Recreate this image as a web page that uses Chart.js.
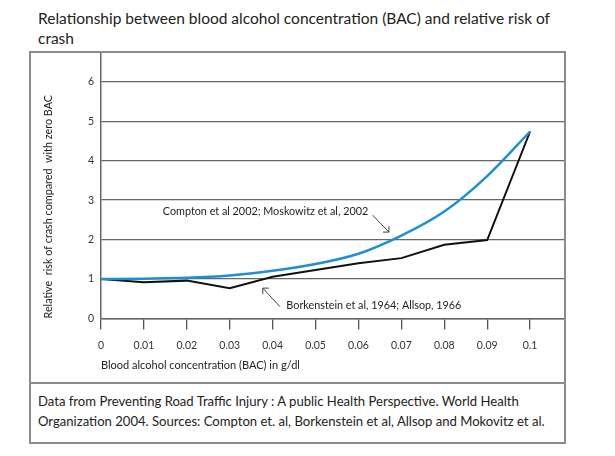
<!DOCTYPE html>
<html>
<head>
<meta charset="utf-8">
<script src="https://cdn.jsdelivr.net/npm/chart.js@4"></script>
<style>
  body { margin: 0; width: 615px; height: 456px; background: #fff; font-family: Lato, sans-serif; color: #222; position: relative; }
  #title { position: absolute; left: 38px; top: 8px; font-size: 15.5px; line-height: 20px; }
  #box { position: absolute; left: 29px; top: 51px; width: 537px; height: 333px; border: 2px solid #8c8c8c; box-sizing: border-box; }
  #box canvas { display: block; }
  #footer { position: absolute; left: 29px; top: 382px; width: 537px; height: 62px; border: 2px solid #8c8c8c; box-sizing: border-box; padding: 7px 0 0 7px; font-size: 13.1px; line-height: 20px; }
</style>
</head>
<body>
<div id="title">Relationship between blood alcohol concentration (BAC) and relative risk of<br>crash</div>
<div id="box"><canvas id="riskChart" width="533" height="329"></canvas></div>
<div id="footer">Data from Preventing Road Traffic Injury : A public Health Perspective. World Health<br>Organization 2004. Sources: Compton et. al, Borkenstein et al, Allsop and Mokovitz et al.</div>
<script>
// Chart data
const bacLevels = [0, 0.01, 0.02, 0.03, 0.04, 0.05, 0.06, 0.07, 0.08, 0.09, 0.1];
const comptonRisk = [1.0, 1.01, 1.03, 1.09, 1.21, 1.38, 1.64, 2.10, 2.71, 3.61, 4.74];
const borkensteinRisk = [1.0, 0.92, 0.96, 0.77, 1.06, 1.23, 1.40, 1.53, 1.87, 1.99, 4.74];
const yTicks = [0, 1, 2, 3, 4, 5, 6];
const comptonLabel = 'Compton et al 2002; Moskowitz et al, 2002';
const borkensteinLabel = 'Borkenstein et al, 1964; Allsop, 1966';

function toPoints(values) {
  return bacLevels.map(function(x, i) { return { x: x, y: values[i] }; });
}

// Labels with small arrows, placed in data units
const annotationPlugin = {
  id: 'annotations',
  afterDatasetsDraw(chart) {
    const ctx = chart.ctx;
    const xs = chart.scales.x;
    const ys = chart.scales.y;
    const px = function(v) { return xs.getPixelForValue(v); };
    const py = function(v) { return ys.getPixelForValue(v); };
    ctx.save();
    ctx.fillStyle = '#222';
    ctx.font = '10.8px Lato';
    ctx.textBaseline = 'middle';
    ctx.fillText(comptonLabel, px(0.0144), py(2.70));
    ctx.fillText(borkensteinLabel, px(0.0432), py(0.32));

    ctx.strokeStyle = '#444';
    ctx.lineWidth = 1;
    // Compton arrow
    let ex = px(0.0671), ey = py(2.19);
    ctx.beginPath();
    ctx.moveTo(px(0.0633), py(2.62));
    ctx.lineTo(ex, ey);
    ctx.moveTo(ex - 6, ey);
    ctx.lineTo(ex, ey);
    ctx.lineTo(ex, ey - 6);
    ctx.stroke();
    // Borkenstein arrow
    ex = px(0.0377); ey = py(0.77);
    ctx.beginPath();
    ctx.moveTo(px(0.0417), py(0.30));
    ctx.lineTo(ex, ey);
    ctx.moveTo(ex + 6, ey);
    ctx.lineTo(ex, ey);
    ctx.lineTo(ex, ey + 6);
    ctx.stroke();
    ctx.restore();
  }
};

const ctx = document.getElementById('riskChart').getContext('2d');
new Chart(ctx, {
  type: 'line',
  data: {
    datasets: [{
      label: comptonLabel,
      data: toPoints(comptonRisk),
      borderColor: '#1f8fd4',
      borderWidth: 2.5,
      pointRadius: 0,
      cubicInterpolationMode: 'monotone',
      fill: false
    }, {
      label: borkensteinLabel,
      data: toPoints(borkensteinRisk),
      borderColor: '#111',
      borderWidth: 2,
      pointRadius: 0,
      tension: 0,
      fill: false
    }]
  },
  options: {
    responsive: false,
    animation: false,
    layout: { padding: 0 },
    plugins: {
      legend: { display: false },
      tooltip: { enabled: false }
    },
    scales: {
      x: {
        type: 'linear',
        min: 0,
        max: 0.1079,
        afterFit: function(scale) {
          scale.height = 63.5;
          scale.paddingLeft = 0;
          scale.paddingRight = 0;
        },
        afterBuildTicks: function(scale) {
          scale.ticks = bacLevels.map(function(v) { return { value: v }; });
        },
        ticks: {
          color: '#333',
          font: { family: 'Lato', size: 10.5 },
          padding: 10,
          maxRotation: 0,
          autoSkip: false,
          callback: function(value) { return String(Number(value.toFixed(2))); }
        },
        grid: { drawOnChartArea: false, drawTicks: true, tickLength: 11, color: '#555', lineWidth: 1.3 },
        border: { display: true, color: '#666', width: 1.5 },
        title: {
          display: true,
          text: 'Blood alcohol concentration (BAC) in g/dl',
          align: 'start',
          color: '#222',
          font: { family: 'Lato', size: 11 },
          padding: { top: 0, bottom: 10 }
        }
      },
      y: {
        min: 0,
        max: 6.73,
        afterFit: function(scale) {
          scale.width = 70;
          scale.paddingTop = 0;
          scale.paddingBottom = 0;
        },
        afterBuildTicks: function(scale) {
          scale.ticks = yTicks.map(function(v) { return { value: v }; });
        },
        ticks: {
          color: '#333',
          font: { family: 'Lato', size: 10.5 },
          padding: 7
        },
        grid: { drawTicks: false, color: '#666', lineWidth: 1.3 },
        border: { display: true, color: '#666', width: 1.5 },
        title: {
          display: true,
          text: 'Relative  risk of crash compared  with zero BAC',
          align: 'start',
          color: '#222',
          font: { family: 'Lato', size: 10.8 },
          padding: { top: 11, bottom: 0 }
        }
      }
    }
  },
  plugins: [annotationPlugin]
});
</script>
</body>
</html>
